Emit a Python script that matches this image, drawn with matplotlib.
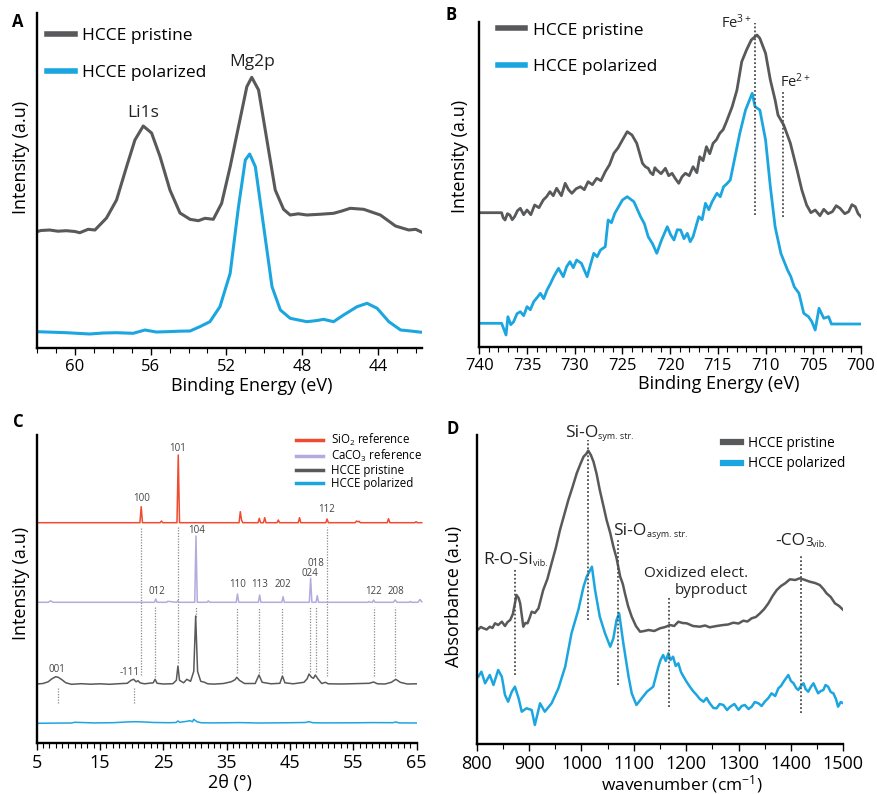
# -*- coding: utf-8 -*-

#Importamos las librerías con las que vamos a trabajar:
import numpy as np
import matplotlib
matplotlib.use('Agg')
from matplotlib import pyplot as plt
from matplotlib.ticker import MultipleLocator

plt.rcParams['font.family'] = ['Open Sans', 'DejaVu Sans']
plt.rcParams['mathtext.default'] = 'regular'

GRIS = '#58595b'
AZUL = '#1ba6e0'
ROJO = '#ee4b30'
LILA = '#b5aadd'
PUNTOS = '#4d4d4d'

'''DATOS PANEL A (XPS Li1s / Mg2p)'''
a_x_pristine = [62.0, 61.8, 61.33, 60.9, 60.45, 60.0, 59.74, 59.3, 58.94, 58.33, 57.8, 57.27, 56.83,
                56.39, 55.95, 55.5, 54.98, 54.45, 53.92, 53.48, 53.13, 52.69, 52.25, 51.8, 51.36,
                50.92, 50.66, 50.3, 49.86, 49.42, 48.98, 48.63, 48.2, 47.75, 47.0, 46.34, 45.9,
                45.46, 44.75, 43.87, 43.07, 42.37, 42.0, 41.67]
a_y_pristine = [116.3, 117.5, 118.0, 116.8, 117.3, 116.5, 115.3, 118.7, 118.0, 130.0, 148.0, 181.3, 208.0,
                222.0, 215.0, 191.3, 158.0, 135.0, 128.7, 127.3, 129.7, 128.7, 144.7, 181.3, 221.3,
                261.3, 270.7, 258.0, 208.0, 158.0, 138.7, 133.0, 134.2, 133.0, 133.8, 134.7, 137.0,
                139.7, 138.7, 133.0, 122.0, 118.0, 118.7, 115.7]
a_x_polarized = [62.0, 61.2, 60.45, 59.8, 59.22, 58.5, 57.8, 56.92, 56.3, 55.7, 55.15, 54.5, 53.92,
                 53.4, 52.87, 52.34, 51.8, 51.36, 51.0, 50.77, 50.47, 50.03, 49.59, 49.15, 48.63,
                 47.75, 47.2, 46.87, 46.34, 45.81, 45.1, 44.57, 44.04, 43.42, 42.8, 42.28, 41.67]
a_y_polarized = [16.3, 15.8, 15.3, 14.6, 14.0, 15.0, 15.3, 14.7, 18.0, 16.0, 16.3, 16.8, 17.0,
                 21.3, 26.3, 41.3, 74.7, 141.3, 188.0, 194.0, 181.3, 121.3, 61.3, 38.0, 29.7,
                 26.3, 27.5, 28.7, 26.3, 33.0, 41.3, 44.7, 39.7, 26.3, 18.0, 17.0, 15.7]
a_ticks = [60, 56, 52, 48, 44]

'''DATOS PANEL B (XPS Fe2p)'''
b_x_pristine = [740.0, 737.66, 737.5, 737.3, 737.05, 736.8, 736.55, 736.3, 736.0, 735.7, 735.35, 735.0,
                734.6, 734.2, 733.75, 733.3, 732.95, 732.6, 732.25, 731.9, 731.4, 731.0, 730.65, 730.3,
                729.85, 729.4, 729.0, 728.6, 728.15, 727.7, 727.25, 726.8, 726.35, 725.9, 725.45, 725.0,
                724.5, 724.0, 723.5, 722.9, 722.6, 722.3, 722.05, 721.8, 721.6, 721.4, 720.95, 720.5,
                720.15, 719.8, 719.45, 719.1, 718.75, 718.4, 718.0, 717.6, 717.2, 716.9, 716.55, 716.2,
                715.85, 715.5, 715.15, 714.8, 714.45, 714.1, 713.5, 713.0, 712.5, 712.0, 711.5, 710.9,
                710.6, 710.0, 709.5, 709.0, 708.7, 708.1, 707.4, 706.7, 706.2, 705.7, 705.25, 704.8,
                704.3, 703.9, 703.45, 703.0, 702.6, 702.2, 701.7, 701.3, 700.95, 700.6, 700.3, 700.0]
b_y_pristine = [134.0, 134.0, 129.0, 126.7, 133.0, 131.7, 127.0, 130.0, 136.0, 138.4, 132.0, 136.7,
                132.0, 141.7, 139.0, 146.7, 150.0, 155.0, 151.0, 158.4, 151.0, 163.4, 157.0, 153.4,
                158.0, 160.0, 157.0, 165.0, 162.0, 168.4, 166.0, 175.0, 182.0, 193.4, 199.0, 206.7,
                215.0, 211.7, 203.4, 183.4, 180.0, 178.4, 174.0, 172.0, 179.0, 176.7, 173.0, 178.4,
                171.0, 173.4, 168.0, 163.4, 170.0, 173.4, 171.0, 180.0, 174.0, 190.0, 186.0, 200.0,
                193.0, 203.4, 207.0, 213.4, 217.0, 225.0, 240.0, 256.7, 285.0, 296.7, 306.7, 311.7,
                308.4, 293.4, 266.7, 246.7, 231.7, 221.7, 203.4, 176.7, 156.7, 141.7, 134.0, 136.7,
                131.0, 137.4, 133.0, 135.0, 141.0, 138.4, 133.0, 135.0, 142.0, 140.0, 133.0, 130.0]
b_x_polarized = [740.0, 737.66, 737.2, 737.0, 736.7, 736.4, 736.05, 735.7, 735.35, 735.0, 734.65, 734.3,
                 733.95, 733.6, 733.25, 732.9, 732.55, 732.2, 731.7, 731.2, 730.85, 730.5, 730.15, 729.8,
                 729.3, 728.7, 728.35, 728.0, 727.65, 727.3, 726.8, 726.5, 726.15, 725.8, 725.4, 725.0,
                 724.5, 723.8, 723.1, 722.7, 722.3, 721.85, 721.4, 720.9, 720.3, 719.95, 719.6, 719.25,
                 718.9, 718.55, 718.2, 717.9, 717.6, 717.0, 716.65, 716.3, 715.95, 715.6, 715.1, 714.75,
                 714.4, 714.05, 713.7, 713.2, 712.7, 712.1, 711.4, 711.1, 710.6, 710.0, 709.5, 709.0,
                 708.4, 707.7, 707.35, 707.0, 706.5, 706.0, 705.5, 705.15, 704.8, 704.4, 703.9, 703.4,
                 703.1, 700.0]
b_y_polarized = [23.4, 23.4, 11.7, 30.0, 22.0, 25.0, 33.0, 35.0, 31.0, 40.0, 37.0, 45.0,
                 49.0, 53.4, 48.0, 56.7, 63.0, 70.0, 78.4, 70.0, 80.0, 85.0, 79.0, 86.7,
                 83.4, 70.0, 82.0, 93.4, 90.0, 96.7, 100.0, 126.7, 124.0, 133.4, 140.0, 146.7,
                 150.0, 145.0, 130.0, 123.0, 110.0, 103.0, 93.4, 106.7, 120.0, 112.0, 106.7, 117.0,
                 116.7, 108.0, 113.4, 105.0, 110.0, 130.0, 127.0, 143.4, 137.0, 145.0, 153.4, 150.0,
                 160.0, 163.0, 166.7, 190.0, 213.4, 236.7, 253.4, 240.0, 236.7, 206.7, 160.0, 120.0,
                 93.4, 76.7, 70.0, 60.0, 53.4, 33.4, 30.0, 25.0, 16.7, 38.4, 28.4, 30.0,
                 22.7, 22.7]
b_ticks = [740, 735, 730, 725, 720, 715, 710, 705, 700]
b_picos_x = [711.1, 708.2]
b_picos_y0 = [131.7, 129.7]
b_picos_y1 = [323.7, 254.7]

'''DATOS PANEL C (DRX)'''
c_x_sio2 = [5, 21.3, 21.5, 21.7, 24.5, 24.7, 24.9, 27.15, 27.35, 27.55, 36.95, 37.15, 37.35, 37.55,
            39.95, 40.15, 40.35, 40.8, 41.0, 41.2, 42.95, 43.15, 43.35, 46.3, 46.5, 46.7, 50.65,
            50.85, 51.05, 55.3, 55.5, 55.7, 55.9, 56.1, 60.35, 60.55, 60.75, 64.7, 64.9, 65.1, 65.8]
c_y_sio2 = [220.6, 220.6, 236.6, 220.6, 220.6, 222.3, 220.6, 220.6, 288.3, 220.6, 220.6, 231.6, 223.0, 220.6,
            220.6, 225.0, 220.6, 220.6, 225.6, 220.6, 220.6, 223.3, 220.6, 220.6, 225.6, 220.6, 220.6,
            224.3, 220.6, 220.6, 222.3, 221.5, 222.0, 220.6, 220.6, 224.6, 220.6, 220.6, 221.6, 220.6, 220.6]
c_x_caco3 = [5, 6.8, 7.2, 7.6, 23.6, 23.8, 24.0, 25.5, 25.7, 27.1, 27.3, 27.5, 29.95, 30.15, 30.35,
             31.9, 32.1, 32.3, 36.5, 36.7, 36.9, 40.0, 40.2, 40.4, 43.7, 43.9, 44.1, 48.05, 48.25, 48.45,
             49.1, 49.3, 49.5, 57.3, 57.5, 57.7, 58.0, 58.2, 58.4, 61.3, 61.6, 61.9, 63.8, 64.0, 64.2,
             65.2, 65.5, 65.8]
c_y_caco3 = [141, 141, 142.5, 141, 141, 144.3, 141, 141, 142, 141, 142.6, 141, 141, 207.3, 141,
             141, 142.5, 141, 141, 149.3, 141, 141, 148.3, 141, 141, 146.6, 141, 141, 165, 141,
             141, 147.6, 141, 141, 141.8, 141, 141, 143.3, 141, 141, 143.3, 141, 141, 141.8, 141,
             141, 143.8, 141.5]
c_x_pristine = [5, 6.0, 6.8, 7.4, 8.0, 8.4, 9.0, 9.6, 10.5, 12, 13.5, 15, 16.5, 18, 19.3, 19.9, 20.3,
                20.7, 21.0, 21.3, 22.0, 23.4, 23.7, 24.0, 25, 26.5, 27.05, 27.3, 27.55, 28.2, 28.7,
                29.3, 29.8, 30.1, 30.4, 30.9, 31.5, 32.0, 33, 34.5, 35.7, 36.3, 36.6, 37.0, 37.8,
                39.5, 40.1, 40.6, 42, 43.4, 43.8, 44.2, 45.5, 47.2, 47.7, 48.0, 48.4, 48.7, 49.0,
                49.4, 50.0, 50.6, 51.0, 53, 55, 57.5, 58.2, 58.8, 60, 61.0, 61.7, 62.4, 63.5, 65.1]
c_y_pristine = [59.3, 59.8, 61.5, 64.5, 66.6, 66.0, 63.5, 60.5, 59.0, 59.6, 59.1, 59.5, 59.0, 59.6, 60.0, 63.0, 64.0,
                61.5, 62.6, 60.5, 59.5, 60.5, 64.0, 60.0, 59.3, 59.6, 63.0, 77.3, 63.0, 60.5, 64.0,
                62.0, 72.0, 127.3, 72.0, 62.0, 61.0, 59.5, 59.2, 59.8, 61.5, 63.5, 66.0, 63.0, 59.8,
                59.8, 68.3, 61.0, 59.5, 60.0, 67.3, 60.5, 59.5, 61.0, 64.5, 69.3, 66.0, 65.0, 68.3,
                64.5, 59.8, 61.0, 59.5, 59.3, 59.6, 60.0, 61.3, 59.5, 59.3, 61.0, 64.0, 61.0, 59.3, 59.5]
c_x_polarized = [5, 8, 10.5, 11, 14, 17, 19.5, 20.5, 22, 23.5, 26, 27.0, 27.3, 27.6, 28.5, 29.2, 29.6,
                 29.8, 30.0, 30.3, 31, 33, 37, 40, 44, 47.4, 48.0, 48.6, 50, 55, 58, 61.2, 61.7, 62.2, 65.1]
c_y_polarized = [20, 20.2, 20.3, 21, 20.4, 20.6, 21.4, 21.6, 21.3, 20.8, 20.6, 20.8, 22.3, 21, 21.8, 22.6, 21.5,
                 24, 23, 21.6, 20.5, 20.4, 20.7, 20.3, 20.5, 20.8, 21.6, 20.6, 20.4, 20.5, 20.7, 20.6, 21.3, 20.4, 20.3]
c_ticks = [5, 15, 25, 35, 45, 55, 65]
#Líneas de referencia (posición, inicio, fin)
c_picos_x = [21.5, 27.3, 23.7, 30.1, 36.6, 40.1, 43.8, 48.1, 49.1, 50.8, 58.2, 61.6, 8.3, 20.3]
c_picos_y0 = [68.3, 80.0, 66.6, 126.6, 70.0, 70.0, 70.0, 71.6, 71.6, 67.3, 67.3, 67.3, 40.0, 40.0]
c_picos_y1 = [216.6, 216.6, 136.6, 136.6, 136.6, 136.6, 136.6, 136.6, 136.6, 216.6, 136.6, 136.6, 55.6, 55.6]
#Índices de Miller
c_hkl = ['101', '100', '112', '104', '018', '024', '110', '113', '202', '012', '122', '208', '001', '-111']
c_hkl_x = [27.3, 21.5, 50.8, 30.2, 49.1, 48.2, 36.7, 40.2, 43.9, 24.0, 58.2, 61.7, 8.2, 19.7]
c_hkl_y = [295, 245, 234, 212.6, 180, 169.3, 159, 159, 159, 152.3, 151.6, 151.6, 74, 70.6]

'''DATOS PANEL D (FTIR)'''
d_x_pristine = [803, 808, 813, 819, 825, 830, 835, 841, 848, 854, 859, 864, 869, 873, 876, 880, 883, 889,
                893, 897, 901, 905, 911, 918, 927, 935, 943, 951, 959, 967, 975, 983, 991, 998, 1004,
                1009, 1013, 1018, 1023, 1029, 1035, 1042, 1048, 1055, 1061, 1067, 1074, 1079, 1083, 1089,
                1096, 1104, 1112, 1120, 1128, 1139, 1150, 1160, 1169, 1177, 1185, 1193, 1201, 1213, 1226,
                1236, 1245, 1258, 1271, 1280, 1290, 1300, 1309, 1317, 1325, 1333, 1341, 1349, 1357, 1365,
                1373, 1381, 1389, 1398, 1408, 1417, 1427, 1436, 1446, 1455, 1462, 1468, 1476, 1484, 1492, 1500]
d_y_pristine = [114.7, 117.0, 115.7, 114.5, 117.3, 116.0, 120.7, 119.0, 122.3, 118.0, 122.0, 124.0, 130.0,
                140.7, 149.0, 146.0, 140.7, 117.3, 121.0, 120.7, 126.0, 132.3, 131.0, 135.7, 154.0, 165.0,
                180.7, 196.0, 214.0, 229.0, 244.0, 257.0, 270.7, 280.0, 287.3, 290.0, 293.3, 289.0, 282.3,
                270.0, 254.0, 238.0, 224.0, 211.0, 197.3, 186.0, 167.3, 160.0, 150.7, 138.0, 127.3, 118.0,
                112.3, 113.0, 114.0, 113.0, 115.7, 117.0, 119.0, 118.0, 122.3, 121.0, 120.7, 118.0, 117.3,
                118.5, 116.7, 118.0, 119.0, 119.5, 121.3, 120.5, 123.3, 122.5, 125.7, 127.0, 130.7, 135.0,
                140.7, 148.0, 154.0, 158.0, 160.7, 164.7, 164.0, 165.7, 164.0, 162.3, 161.0, 159.0, 155.0,
                150.7, 147.0, 140.7, 138.0, 134.0]
d_x_polarized = [803, 809, 816, 825, 832, 841, 848, 854, 860, 867, 873, 880, 886, 895, 905, 911, 921, 930,
                 943, 956, 969, 981, 994, 1004, 1010, 1020, 1026, 1035, 1045, 1055, 1061, 1067, 1072, 1080,
                 1090, 1096, 1105, 1115, 1125, 1137, 1147, 1151, 1156, 1161, 1166, 1170, 1175, 1180, 1185,
                 1190, 1195, 1201, 1207, 1213, 1220, 1226, 1233, 1239, 1245, 1252, 1258, 1264, 1271, 1278,
                 1284, 1292, 1300, 1306, 1312, 1319, 1325, 1331, 1338, 1344, 1350, 1357, 1363, 1370, 1376,
                 1381, 1386, 1391, 1395, 1400, 1405, 1410, 1414, 1419, 1424, 1428, 1433, 1438, 1443, 1448,
                 1452, 1457, 1462, 1466, 1471, 1476, 1481, 1486, 1490, 1495, 1500]
d_y_polarized = [67.3, 72.3, 60.7, 69.0, 59.0, 74.0, 67.3, 49.0, 42.3, 52.3, 57.3, 45.7, 32.3, 35.7, 34.0,
                 19.0, 40.7, 32.3, 40.7, 55.7, 77.3, 110.7, 134.0, 157.3, 167.3, 177.3, 154.0, 127.3, 110.7,
                 97.3, 105.7, 124.0, 130.7, 100.7, 67.3, 50.7, 39.0, 45.7, 52.3, 57.3, 77.3, 84.0, 89.0,
                 83.0, 90.7, 84.0, 87.3, 78.0, 80.7, 72.0, 67.3, 62.0, 57.3, 53.0, 49.0, 45.0, 42.3,
                 46.0, 40.7, 36.0, 35.7, 40.0, 39.0, 34.0, 37.3, 40.0, 34.0, 38.0, 39.0, 35.0, 37.3,
                 42.0, 40.7, 38.0, 42.3, 46.0, 50.7, 48.0, 55.7, 58.0, 62.3, 66.0, 69.0, 63.0, 60.7,
                 56.0, 54.0, 58.0, 60.7, 55.0, 52.3, 57.0, 60.7, 55.0, 50.7, 53.0, 54.0, 59.0, 57.3,
                 52.0, 50.7, 45.0, 37.3, 42.0, 40.7]
d_ticks = [800, 900, 1000, 1100, 1200, 1300, 1400, 1500]
d_picos_x = [874, 1013, 1070, 1167, 1420]
d_picos_y0 = [69.0, 124.0, 59.0, 37.3, 30.7]
d_picos_y1 = [175.7, 304.0, 204.0, 147.3, 188.0]


#Función para dejar los ejes con el mismo aspecto en los cuatro paneles
def EstiloEjes(ax, xlim, ylim, ticks, menor, tam):
    ax.set_xlim(*xlim)
    ax.set_ylim(*ylim)
    ax.spines['top'].set_visible(False)
    ax.spines['right'].set_visible(False)
    ax.spines['left'].set_linewidth(1.7)
    ax.spines['bottom'].set_linewidth(1.7)
    ax.set_yticks([])
    ax.set_xticks(ticks)
    ax.xaxis.set_minor_locator(MultipleLocator(menor))
    ax.tick_params(axis='x', which='major', length=5, width=1.0, labelsize=tam, pad=3)
    ax.tick_params(axis='x', which='minor', length=3.5, width=0.8)


#Subíndice pequeño pegado a la derecha de un texto
def Subindice(ax, texto, sub, tam_sub, dy=0.0):
    return ax.annotate(sub, xy=(1, dy), xycoords=texto, fontsize=tam_sub, ha='left', va='bottom',
                       color='#222222')


fig = plt.figure(figsize=(8.77, 7.94), dpi=100)
W, H = 877, 794

'''PANEL A'''
axA = fig.add_axes([37/W, 1 - 348/H, 385/W, 335/H])
axA.plot(a_x_pristine, a_y_pristine, color=GRIS, lw=2.2, label='HCCE pristine')
axA.plot(a_x_polarized, a_y_polarized, color=AZUL, lw=2.2, label='HCCE polarized')
EstiloEjes(axA, (62, 41.67), (0, 335), a_ticks, 1, 12)
axA.set_xlabel('Binding Energy (eV)', fontsize=13)
axA.set_ylabel('Intensity (a.u)', fontsize=13)
axA.xaxis.set_label_coords(0.558, -0.088)
axA.yaxis.set_label_coords(-0.018, 0.57)
axA.text(56.4, 235, 'Li1s', fontsize=12.5, ha='center', va='center', color='#222222')
axA.text(50.66, 286, 'Mg2p', fontsize=12.5, ha='center', va='center', color='#222222')
legA = axA.legend(loc='upper left', bbox_to_anchor=(0.026, 0.955), frameon=False, fontsize=12.5,
                  handlelength=1.6, handletextpad=0.4, labelspacing=1.17, borderpad=0, borderaxespad=0)
for linea in legA.get_lines():
    linea.set_linewidth(4)

'''PANEL B'''
axB = fig.add_axes([479.3/W, 1 - 346.7/H, 381.7/W, 325/H])
axB.plot(b_x_pristine, b_y_pristine, color=GRIS, lw=2.0, label='HCCE pristine')
axB.plot(b_x_polarized, b_y_polarized, color=AZUL, lw=2.0, label='HCCE polarized')
axB.vlines(b_picos_x, b_picos_y0, b_picos_y1, colors=PUNTOS, linestyles=(0, (1, 1.2)), lw=1.3)
EstiloEjes(axB, (740, 700), (0, 325), b_ticks, 1, 12)
axB.set_xlabel('Binding Energy (eV)', fontsize=13)
axB.set_ylabel('Intensity (a.u)', fontsize=13)
axB.xaxis.set_label_coords(0.628, -0.088)
axB.yaxis.set_label_coords(-0.027, 0.584)
axB.text(713.0, 323.7, r'Fe$^{3+}$', fontsize=10.5, ha='center', va='center', color='#222222')
axB.text(706.9, 264.7, r'Fe$^{2+}$', fontsize=10.5, ha='center', va='center', color='#222222')
legB = axB.legend(loc='upper left', bbox_to_anchor=(0.049, 0.998), frameon=False, fontsize=12.5,
                  handlelength=1.55, handletextpad=0.46, labelspacing=1.17, borderpad=0, borderaxespad=0)
for linea in legB.get_lines():
    linea.set_linewidth(4)

'''PANEL C'''
axC = fig.add_axes([36.7/W, 1 - 743.3/H, 380/W, 308.3/H])
axC.vlines(c_picos_x, c_picos_y0, c_picos_y1, colors='#8a8a8a', linestyles=(0, (1, 1.2)), lw=0.9)
axC.plot(c_x_sio2, c_y_sio2, color=ROJO, lw=1.1, label=r'SiO$_2$ reference', clip_on=False)
axC.plot(c_x_caco3, c_y_caco3, color=LILA, lw=1.1, label=r'CaCO$_3$ reference', clip_on=False)
axC.plot(c_x_pristine, c_y_pristine, color=GRIS, lw=1.1, label='HCCE pristine')
axC.plot(c_x_polarized, c_y_polarized, color=AZUL, lw=1.1, label='HCCE polarized')
EstiloEjes(axC, (5, 65), (0, 308.3), c_ticks, 1, 13)
axC.set_xlabel('2θ (°)', fontsize=13)
axC.set_ylabel('Intensity (a.u)', fontsize=13)
axC.xaxis.set_label_coords(0.509, -0.098)
axC.yaxis.set_label_coords(-0.018, 0.52)
for i in range(len(c_hkl)):
    axC.text(c_hkl_x[i], c_hkl_y[i], c_hkl[i], fontsize=7, ha='center', va='center', color='#444444')
legC = axC.legend(loc='upper right', bbox_to_anchor=(1.013, 1.011), frameon=False, fontsize=8.3,
                  handlelength=2.35, handletextpad=0.7, labelspacing=0.0, borderpad=0, borderaxespad=0)
for linea in legC.get_lines():
    linea.set_linewidth(2.5)

'''PANEL D'''
axD = fig.add_axes([476.7/W, 1 - 744/H, 366.6/W, 309/H])
axD.plot(d_x_pristine, d_y_pristine, color=GRIS, lw=1.8, label='HCCE pristine')
axD.plot(d_x_polarized, d_y_polarized, color=AZUL, lw=1.8, label='HCCE polarized')
axD.vlines(d_picos_x, d_picos_y0, d_picos_y1, colors=PUNTOS, linestyles=(0, (1, 1.2)), lw=1.3)
EstiloEjes(axD, (800, 1500), (0, 309), d_ticks, 50, 13)
axD.set_xlabel(r'wavenumber (cm$^{-1}$)', fontsize=12.5)
axD.set_ylabel('Absorbance (a.u)', fontsize=13)
axD.xaxis.set_label_coords(0.559, -0.094)
axD.yaxis.set_label_coords(-0.037, 0.479)
t1 = axD.text(968, 307.3, 'Si-O', fontsize=12.5, ha='left', va='baseline', color='#222222')
Subindice(axD, t1, 'sym. str.', 6.5)
t2 = axD.text(1061, 209, 'Si-O', fontsize=12.5, ha='left', va='baseline', color='#222222')
Subindice(axD, t2, 'asym. str.', 6.5)
t3 = axD.text(812.7, 180, 'R-O-Si', fontsize=12.5, ha='left', va='baseline', color='#222222')
Subindice(axD, t3, 'vib.', 6.5)
t4 = axD.text(1369.5, 199, '-CO', fontsize=12.5, ha='left', va='baseline', color='#222222')
t5 = Subindice(axD, t4, '3', 9.5)
Subindice(axD, t5, 'vib.', 6.5)
axD.text(1318.6, 167.3, 'Oxidized elect.', fontsize=11, ha='right', va='baseline', color='#222222')
axD.text(1318.6, 150, 'byproduct', fontsize=11, ha='right', va='baseline', color='#222222')
legD = axD.legend(loc='upper left', bbox_to_anchor=(0.672, 0.996), frameon=False, fontsize=9.8,
                  handlelength=1.3, handletextpad=0.53, labelspacing=0.37, borderpad=0, borderaxespad=0)
for linea in legD.get_lines():
    linea.set_linewidth(4.5)

#Letras de cada panel
for letra, px, py in [('A', 18, 22), ('B', 451, 15), ('C', 18, 422), ('D', 453, 429)]:
    fig.text(px/W, 1 - py/H, letra, fontsize=12, fontweight='bold', ha='center', va='center')

plt.savefig('out.png', dpi=100)
